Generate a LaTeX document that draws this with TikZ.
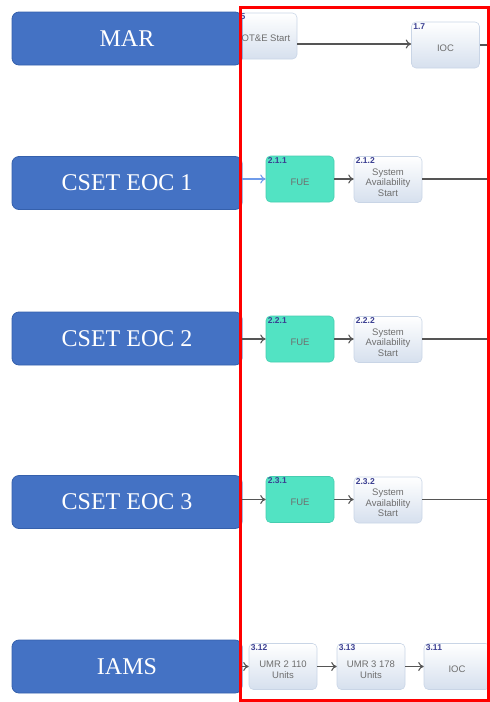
\documentclass[tikz,border=0pt]{standalone}
\usepackage{fontspec}
\setmainfont{Liberation Serif}
\newfontfamily\sansf{Liberation Sans}
\usetikzlibrary{arrows.meta}
\definecolor{lanefill}{HTML}{4472C4}
\definecolor{laneedge}{HTML}{3560AC}
\definecolor{fuefill}{HTML}{52E3C3}
\definecolor{fueedge}{HTML}{46CDB0}
\definecolor{taskedge}{HTML}{C9D5E6}
\definecolor{taskbot}{HTML}{D6E0EE}
\definecolor{tasktext}{HTML}{6E6E6E}
\definecolor{idcol}{HTML}{3B3F92}
\definecolor{conncol}{HTML}{555555}
\definecolor{lightconn}{HTML}{6F9BEA}
\definecolor{frame}{HTML}{FF0000}
\newcommand\tbox[6]{%
  \node[#4] (#1) at (#2,#3) {};
  \node[tasktxt] (#1t) at ([yshift=-3pt]#1.center) {#6};
  \node[idlbl] (#1i) at ([xshift=2pt,yshift=-1.5pt]#1.north west) {#5};}
\begin{document}
\begin{tikzpicture}[x=1pt,y=-1pt,
  lane/.style={draw=laneedge, line width=0.8pt, fill=lanefill, rounded corners=7pt,
    minimum width=230pt, minimum height=53pt, inner sep=0pt, text=white,
    font=\fontsize{24}{28}\selectfont},
  taskbase/.style={rectangle, rounded corners=4.5pt, minimum width=68pt,
    minimum height=46pt, inner sep=0pt, line width=0.6pt},
  task/.style={taskbase, draw=taskedge, top color=white, bottom color=taskbot},
  fue/.style={taskbase, draw=fueedge, fill=fuefill},
  tasktxt/.style={font=\sansf\fontsize{9.5}{10.5}\selectfont, text=tasktext,
    align=center, inner sep=0pt},
  idlbl/.style={font=\sansf\bfseries\fontsize{8.5}{9}\selectfont, text=idcol,
    inner sep=0pt, anchor=north west},
  conn/.style={draw=conncol, line width=1.1pt, -{To[length=5.5pt,width=9pt]}},
  flow/.style={draw=conncol, line width=1.1pt}]
\useasboundingbox (0,0) rectangle (490,702);

% task boxes
\node[task, minimum width=72pt] (ote) at (261,36) {};
\node[tasktxt] (otet) at (266,38) {OT\&E Start};
\node[idlbl] (otei) at (240.5,13) {5};
\tbox{ioc}{445.5}{45}{task}{1.7}{IOC}
\tbox{fuea}{300}{179}{fue}{2.1.1}{FUE}
\tbox{sasa}{388}{179.5}{task}{2.1.2}{System\\Availability\\Start}
\tbox{fueb}{300}{339}{fue}{2.2.1}{FUE}
\tbox{sasb}{388}{339.5}{task}{2.2.2}{System\\Availability\\Start}
\tbox{fuec}{300}{499.5}{fue}{2.3.1}{FUE}
\tbox{sasc}{388}{500}{task}{2.3.2}{System\\Availability\\Start}
\tbox{umra}{283}{666.5}{task}{3.12}{UMR 2 110\\Units}
\tbox{umrb}{371}{666.5}{task}{3.13}{UMR 3 178\\Units}
\node[task, minimum width=66pt] (iocb) at (457,666.5) {};
\node[tasktxt] (iocbt) at ([yshift=-3pt]iocb.center) {IOC};
\node[idlbl] (iocbi) at ([xshift=2pt,yshift=-1.5pt]iocb.north west) {3.11};

% lanes
\node[lane] (mar) at (127,38.5) {MAR};
\node[lane] (eoca) at (127,183) {CSET EOC 1};
\node[lane] (eocb) at (127,338.5) {CSET EOC 2};
\node[lane] (eocc) at (127,502) {CSET EOC 3};
\node[lane] (iams) at (127,666.5) {IAMS};

% connector ends at the right edge
\coordinate (ea) at (490,45);
\coordinate (eb) at (490,179);
\coordinate (ec) at (490,339);
\coordinate (ed) at (490,499.5);

% connectors
\draw[conn] (ote.east |- 0,44) -- (ioc.west |- 0,44);
\draw[flow] (ioc.east) -- (ea);
\draw[conn, draw=lightconn] (eoca.east |- fuea.west) -- (fuea.west);
\draw[conn] (fuea.east) -- (sasa.west |- fuea.east);
\draw[flow] (sasa.east |- eb) -- (eb);
\draw[conn] (eocb.east |- fueb.west) -- (fueb.west);
\draw[conn] (fueb.east) -- (sasb.west |- fueb.east);
\draw[flow] (sasb.east |- ec) -- (ec);
\draw[conn] (eocc.east |- fuec.west) -- (fuec.west);
\draw[conn] (fuec.east) -- (sasc.west |- fuec.east);
\draw[flow] (sasc.east |- ed) -- (ed);
\draw[conn] (iams.east |- umra.west) -- (umra.west);
\draw[conn] (umra.east) -- (umrb.west);
\draw[conn] (umrb.east) -- (iocb.west);

% red frame
\draw[frame, line width=3pt] (240.5,7) rectangle (488.5,700);
\end{tikzpicture}
\end{document}
